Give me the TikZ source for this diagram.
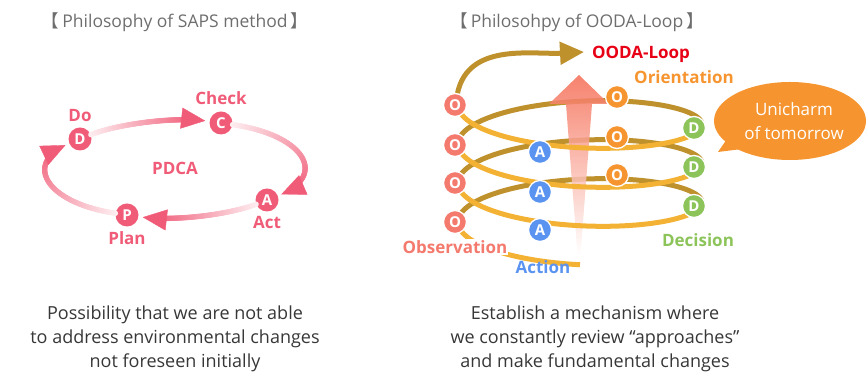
\documentclass[tikz,border=0pt]{standalone}
\usepackage{fontspec}
\setmainfont{Open Sans}
\newfontfamily\cjkfont{Noto Sans CJK JP}
\usepackage{tikz}
\usetikzlibrary{arrows.meta, positioning, decorations.markings, shapes.geometric}
\definecolor{pdcapink}{RGB}{240, 92, 120}
\definecolor{titlegray}{RGB}{110, 110, 110}
\definecolor{bodygray}{RGB}{55, 55, 55}
\definecolor{backgold}{RGB}{190, 145, 45}
\definecolor{frontgold}{RGB}{243, 178, 52}
\definecolor{obsred}{RGB}{244, 122, 110}
\definecolor{actblue}{RGB}{90, 147, 240}
\definecolor{oriorange}{RGB}{246, 149, 48}
\definecolor{decgreen}{RGB}{140, 196, 90}
\definecolor{loopred}{RGB}{232, 0, 20}
\definecolor{risered}{RGB}{245, 108, 84}

\tikzset{
  titletext/.style={text=titlegray, font=\fontsize{17.5}{19}\selectfont},
  bodytext/.style={text=bodygray, align=center, font=\fontsize{18}{24}\selectfont},
  pdcadot/.style={circle, fill=pdcapink, minimum size=23pt, inner sep=0pt, text=white, font=\fontsize{15}{15}\selectfont\bfseries},
  pdcalabel/.style={text=pdcapink, font=\fontsize{17}{17}\selectfont\bfseries},
  pdcaarc/.style={postaction={decorate}, decoration={markings,
      mark=between positions 0 and -18pt step 0.8pt with {
        \pgfmathtruncatemacro\fadepct{min(100,10+100*(\pgfkeysvalueof{/pgf/decoration/mark info/distance from start}/\pgfdecoratedpathlength))}
        \fill[pdcapink!\fadepct!white] (0,0) circle (2.7pt);},
      mark=at position -4pt with {\arrow[pdcapink]{Triangle[length=24pt, width=21pt]}}}},
  backarc/.style={draw=backgold, line width=5pt},
  frontarc/.style={draw=frontgold, line width=5pt},
  oodadot/.style={circle, fill=#1, draw=white, line width=1.3pt, minimum size=23pt, inner sep=0pt, text=white, font=\fontsize{15}{15}\selectfont\bfseries},
  oodalabel/.style={text=#1, font=\fontsize{17}{17}\selectfont\bfseries}
}

\begin{document}
\begin{tikzpicture}[x=1pt, y=1pt]
    \useasboundingbox (0,0) rectangle (867,379);

    % Titles
    \node[titletext] (sapstitle) at (175,357) {{\cjkfont 【}\,Philosophy of SAPS method\,{\cjkfont 】}};
    \node[titletext] (oodatitle) at (577,357) {{\cjkfont 【}\,Philosohpy of OODA-Loop\,{\cjkfont 】}};

    % PDCA cycle
    \node[pdcadot] (do) at (80,240) {D};
    \node[pdcadot] (check) at (221,256) {C};
    \node[pdcadot] (act) at (267,179) {A};
    \node[pdcadot] (plan) at (127,164) {P};
    \node[pdcalabel, above=2pt of do] (dolabel) {Do};
    \node[pdcalabel, above=3pt of check] (checklabel) {Check};
    \node[pdcalabel, below=1pt of act] (actlabel) {Act};
    \node[pdcalabel, below=1pt of plan] (planlabel) {Plan};
    \node[pdcalabel] (pdca) at (175,211) {PDCA};

    \path[pdcaarc] (do) .. controls +(35,14) and +(-49,7) .. (check);
    \path[pdcaarc] (check) .. controls +(84,-12) and +(62,24) .. (act);
    \path[pdcaarc] (act) .. controls +(-36,-14) and +(48,-7) .. (plan);
    \path[pdcaarc] (plan) .. controls +(-81,12) and +(-58,-24) .. (do);

    % OODA spiral, back half turns
    \foreach \k in {0,1,2} {
        \draw[backarc] plot[domain={180-360*\k}:{-360*\k}, samples=50]
            ({580+122*cos(\x)}, {147.25+0.108333*(270-\x)+33*sin(\x)});
    }

    % Rising arrow
    \shade[top color=risered, middle color=risered!75, bottom color=white, opacity=0.85]
        (579,304) -- (609,275) -- (592,275) -- (580.5,124) -- (577.5,124) -- (566,275) -- (549,275) -- cycle;

    % OODA spiral, front half turns
    \draw[frontarc] plot[domain=270:180, samples=30]
        ({580+122*cos(\x)}, {147.25+0.108333*(270-\x)+33*sin(\x)});
    \foreach \k in {0,1,2} {
        \draw[frontarc] plot[domain={-360*\k}:{-180-360*\k}, samples=50]
            ({580+122*cos(\x)}, {147.25+0.108333*(270-\x)+33*sin(\x)});
    }

    % Observation
    \node[oodadot=obsred] (obs1) at (455,157) {O};
    \node[oodadot=obsred] (obs2) at (455,196) {O};
    \node[oodadot=obsred] (obs3) at (455,234) {O};
    \node[oodadot=obsred] (obs4) at (455,274) {O};
    % Action
    \node[oodadot=actblue] (act1) at (540,149) {A};
    \node[oodadot=actblue] (act2) at (540,187) {A};
    \node[oodadot=actblue] (act3) at (540,227) {A};
    % Orientation
    \node[oodadot=oriorange] (ori1) at (617,204) {O};
    \node[oodadot=oriorange] (ori2) at (617,242) {O};
    \node[oodadot=oriorange] (ori3) at (617,282) {O};
    % Decision
    \node[oodadot=decgreen] (dec1) at (694,173) {D};
    \node[oodadot=decgreen] (dec2) at (694,212) {D};
    \node[oodadot=decgreen] (dec3) at (694,251) {D};

    % Loop arrow on top
    \coordinate (looptip) at (584,327);
    \draw[backarc, -{Triangle[length=24pt, width=22pt]}] (obs4) to[out=78, in=183] (looptip);

    \node[oodalabel=loopred] (looplabel) at (641,325) {OODA-Loop};
    \node[oodalabel=oriorange] (orilabel) at (684,302) {Orientation};
    \node[oodalabel=obsred, fill=white, inner sep=1pt] (obslabel) at (455,132) {Observation};
    \node[oodalabel=actblue] (actlabel2) at (543,112) {Action};
    \node[oodalabel=decgreen] (declabel) at (698,139) {Decision};

    % Speech bubble
    \fill[oriorange] (718,227) -- (729,243) -- (750,231) -- cycle;
    \node[ellipse, fill=oriorange, minimum width=144pt, minimum height=78pt, inner sep=0pt,
          text=white, align=center, font=\fontsize{17}{24}\selectfont] (bubble) at (790,258)
          {\hspace*{8pt}Unicharm\\\hspace*{8pt}of tomorrow};

    % Captions
    \node[bodytext] (sapscaption) at (175,40) {Possibility that we are not able\\to address environmental changes\\not foreseen initially};
    \node[bodytext] (oodacaption) at (595,40) {Establish a mechanism where\\we constantly review “approaches”\\and make fundamental changes};
\end{tikzpicture}
\end{document}
